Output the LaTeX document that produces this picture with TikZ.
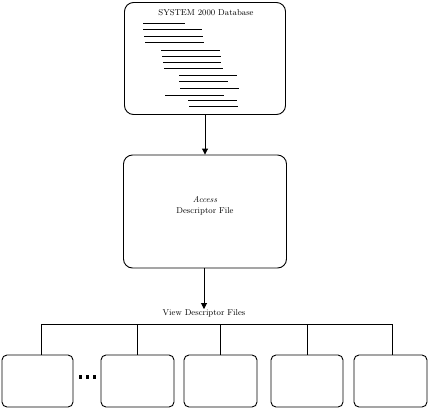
\documentclass[tikz,border=0pt]{standalone}
\usetikzlibrary{arrows.meta}
\begin{document}
\begin{tikzpicture}[x=1pt,y=-1pt,
  bigbox/.style={draw,rounded corners=9pt,line width=0.9pt,inner sep=0pt},
  smallbox/.style={draw,rounded corners=5pt,line width=0.9pt,inner sep=0pt,minimum height=52pt},
  lbl/.style={font=\fontsize{8.5}{10}\selectfont,inner sep=0pt},
  conn/.style={line width=0.9pt},
  arr/.style={line width=0.9pt,-{Triangle[length=6pt,width=6pt]}},
  rec/.style={line width=0.9pt}]
\useasboundingbox (0,0) rectangle (428,408);
% top box
\node[bigbox,minimum width=161pt,minimum height=112pt] (db) at (205,58.5) {};
\node[lbl] (dbt) at (206,13) {SYSTEM 2000 Database};
\draw[rec] (143,23) -- (185,23);
\draw[rec] (143,29) -- (202,29);
\draw[rec] (144,36) -- (203,36);
\draw[rec] (145,42) -- (204,42);
\draw[rec] (161,50) -- (220,50);
\draw[rec] (162,56) -- (221,56);
\draw[rec] (163,62) -- (221,62);
\draw[rec] (164,68) -- (223,68);
\draw[rec] (179,75) -- (237,75);
\draw[rec] (179,81) -- (228,81);
\draw[rec] (180,88) -- (239,88);
\draw[rec] (165,95) -- (224,95);
\draw[rec] (188,100) -- (237,100);
\draw[rec] (189,106) -- (238,106);
% middle box
\node[bigbox,minimum width=163pt,minimum height=113pt] (adf) at (205,211.5) {};
\node[lbl,align=center] (adft) at (205,205.5) {\textit{Access}\\[1pt]Descriptor File};
\draw[arr] (db.south) -- (adf.north);
% view descriptor
\node[lbl] (vdf) at (204,313) {View Descriptor Files};
\draw[arr] (adf.south -| vdf.north) -- (vdf.north);
% bottom boxes
\node[smallbox,minimum width=71pt] (b1) at (37.5,381) {};
\node[smallbox,minimum width=73pt] (b2) at (137.5,381) {};
\node[smallbox,minimum width=73pt] (b3) at (220.5,381) {};
\node[smallbox,minimum width=72pt] (b4) at (307,381) {};
\node[smallbox,minimum width=73pt] (b5) at (390.5,381) {};
\coordinate (bus) at (0,324);
\coordinate (t1) at ([xshift=3.5pt]b1.north);
\coordinate (t5) at ([xshift=1.5pt]b5.north);
\draw[conn] (t1) -- (t1 |- bus) -- (t5 |- bus) -- (t5);
\draw[conn] (b2.north |- bus) -- (b2.north);
\draw[conn] (b3.north |- bus) -- (b3.north);
\draw[conn] (b4.north |- bus) -- (b4.north);
% dots
\foreach \xx in {80.5,87.5,94.5} \fill (\xx-1.8,375.2) rectangle ++(3.6,3.6);
\end{tikzpicture}
\end{document}
